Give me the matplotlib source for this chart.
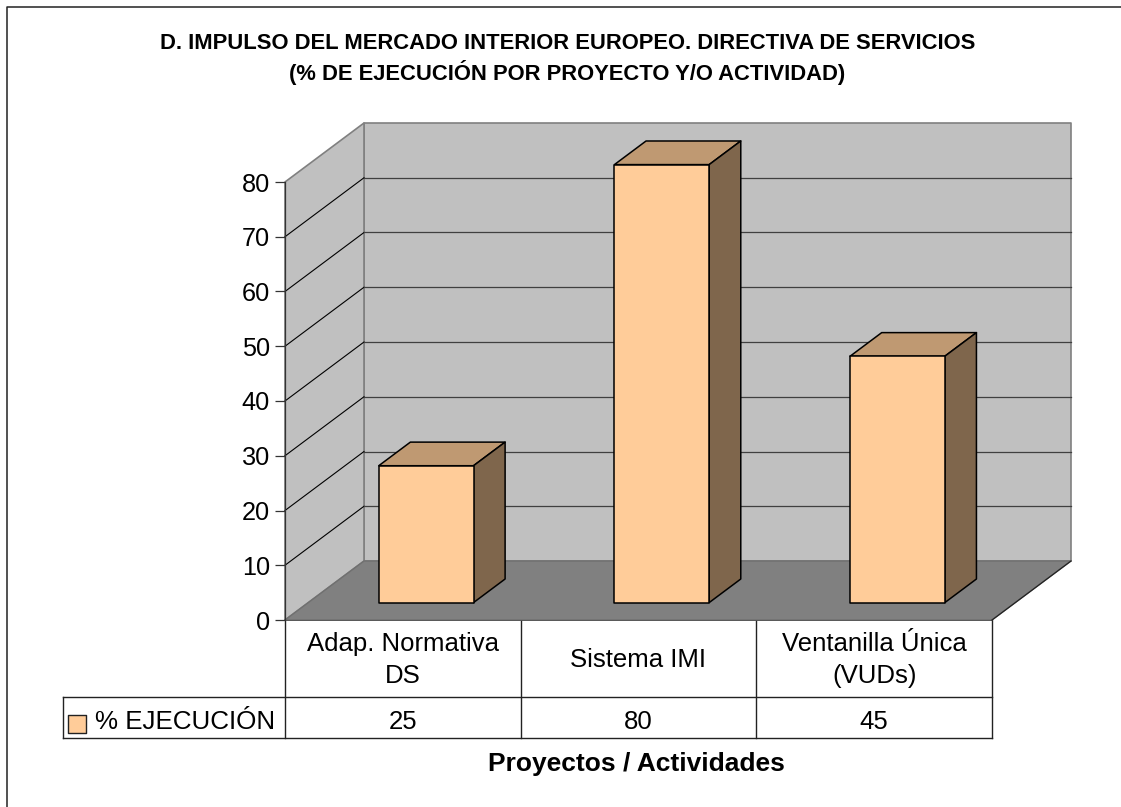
import matplotlib
matplotlib.use('Agg')
import matplotlib.pyplot as plt
from matplotlib.patches import Polygon

plt.rcParams['font.family'] = ['Liberation Sans', 'DejaVu Sans']

categories = ['Adap. Normativa\nDS', 'Sistema IMI', 'Ventanilla Única\n(VUDs)']
valores = [25, 80, 45]
serie = '% EJECUCIÓN'
yticks = [0, 10, 20, 30, 40, 50, 60, 70, 80]
titulo = 'D. IMPULSO DEL MERCADO INTERIOR EUROPEO. DIRECTIVA DE SERVICIOS\n(% DE EJECUCIÓN POR PROYECTO Y/O ACTIVIDAD)'
xlabel = 'Proyectos / Actividades'

W, H = 1121, 807
fig = plt.figure(figsize=(W / 100, H / 100), dpi=100, facecolor='white')

# capa en pixeles para marco, tabla y textos
bg = fig.add_axes([0, 0, 1, 1])
bg.set_xlim(0, W)
bg.set_ylim(H, 0)
bg.axis('off')
# el marco solo se ve arriba y a la izquierda
bg.plot([6.8, 6.8, W], [H, 6.8, 6.8], color='#222222', lw=1.1)

# ejes del frente del grafico
ax = fig.add_axes([285 / W, 1 - 620 / H, 707 / W, 438 / H])
ax.set_xlim(0, 3)
ax.set_ylim(0, 80)
ax.patch.set_visible(False)

DX = 79 / (707 / 3)   # profundidad en unidades de x
DY = 59 / (438 / 80)  # profundidad en unidades de y


def proj(x, y, d):
    return (x + d * DX, y + d * DY)


def cara(puntos, color, ec, lw=1.0, z=2):
    ax.add_patch(Polygon(puntos, closed=True, fc=color, ec=ec, lw=lw, zorder=z,
                         clip_on=False, joinstyle='round'))


top = yticks[-1]
# paredes y suelo
cara([proj(0, 0, 1), proj(3, 0, 1), proj(3, top, 1), proj(0, top, 1)], '#C0C0C0', '#808080', 1.2, 1)
cara([proj(0, 0, 0), proj(0, 0, 1), proj(0, top, 1), proj(0, top, 0)], '#C0C0C0', '#808080', 1.2, 1)
cara([proj(0, 0, 0), proj(3, 0, 0), proj(3, 0, 1), proj(0, 0, 1)], '#808080', '#707070', 1.0, 1)
ax.plot(*zip(proj(3, 0, 0), proj(3, 0, 1)), color='#222222', lw=0.9, zorder=1.5, clip_on=False)

for v in yticks[1:-1]:
    ax.plot(*zip(proj(0, v, 0), proj(0, v, 1)), color='black', lw=0.8, zorder=1.5, clip_on=False)
    ax.plot(*zip(proj(0, v, 1), proj(3, v, 1)), color='#404040', lw=0.9, zorder=1.5, clip_on=False)

# barras 3D
ancho = 0.402
d0, d1 = 0.295, 0.695
for i, v in enumerate(valores):
    a = i + 0.5 - ancho / 2
    b = i + 0.5 + ancho / 2
    cara([proj(a, v, d0), proj(b, v, d0), proj(b, v, d1), proj(a, v, d1)], '#BF9972', 'black', 1.1, 3)
    cara([proj(b, 0, d0), proj(b, 0, d1), proj(b, v, d1), proj(b, v, d0)], '#7F664C', 'black', 1.1, 3)
    cara([proj(a, 0, d0), proj(b, 0, d0), proj(b, v, d0), proj(a, v, d0)], '#FFCC99', 'black', 1.1, 4)

ax.set_xticks([])
ax.set_yticks(yticks)
ax.tick_params(axis='y', length=7.2, width=0.9, color='#333333', labelsize=18.2, pad=3.6)
for s in ['top', 'right', 'bottom']:
    ax.spines[s].set_visible(False)
ax.spines['left'].set_color('#333333')
ax.spines['left'].set_linewidth(0.9)
ax.spines['left'].set_zorder(6)

# tabla de datos
col_x = [285, 520.7, 756.3, 992]
y0, y1, y2 = 620, 697, 738
lin = dict(color='#222222', lw=1.0)
bg.plot([285, 992], [y0, y0], color='black', lw=1.2, zorder=5)
bg.plot([62.5, 992], [y1, y1], **lin)
bg.plot([62.5, 992], [y2, y2], **lin)
bg.plot([62.5, 62.5], [y1, y2], **lin)
for cx in col_x:
    bg.plot([cx, cx], [y0, y2], **lin)

for i, c in enumerate(categories):
    xc = (col_x[i] + col_x[i + 1]) / 2
    bg.text(xc, (y0 + y1) / 2 + 1.5, c, ha='center', va='center', fontsize=18.5, linespacing=1.42)
    bg.text(xc, (y1 + y2) / 2 + 4.5, str(valores[i]), ha='center', va='center', fontsize=18.5)

bg.scatter([77], [723.5], s=150, marker='s', c='#FFCC99', edgecolors='#222222', linewidths=1)
bg.text(275, (y1 + y2) / 2 + 4.5, serie, ha='right', va='center', fontsize=18.7)

bg.text(567.5, 59, titulo, ha='center', va='center', fontsize=15.8, fontweight='bold', linespacing=1.28)
bg.text(636.5, 764.5, xlabel, ha='center', va='center', fontsize=19, fontweight='bold')

fig.savefig('out.png', dpi=100)
